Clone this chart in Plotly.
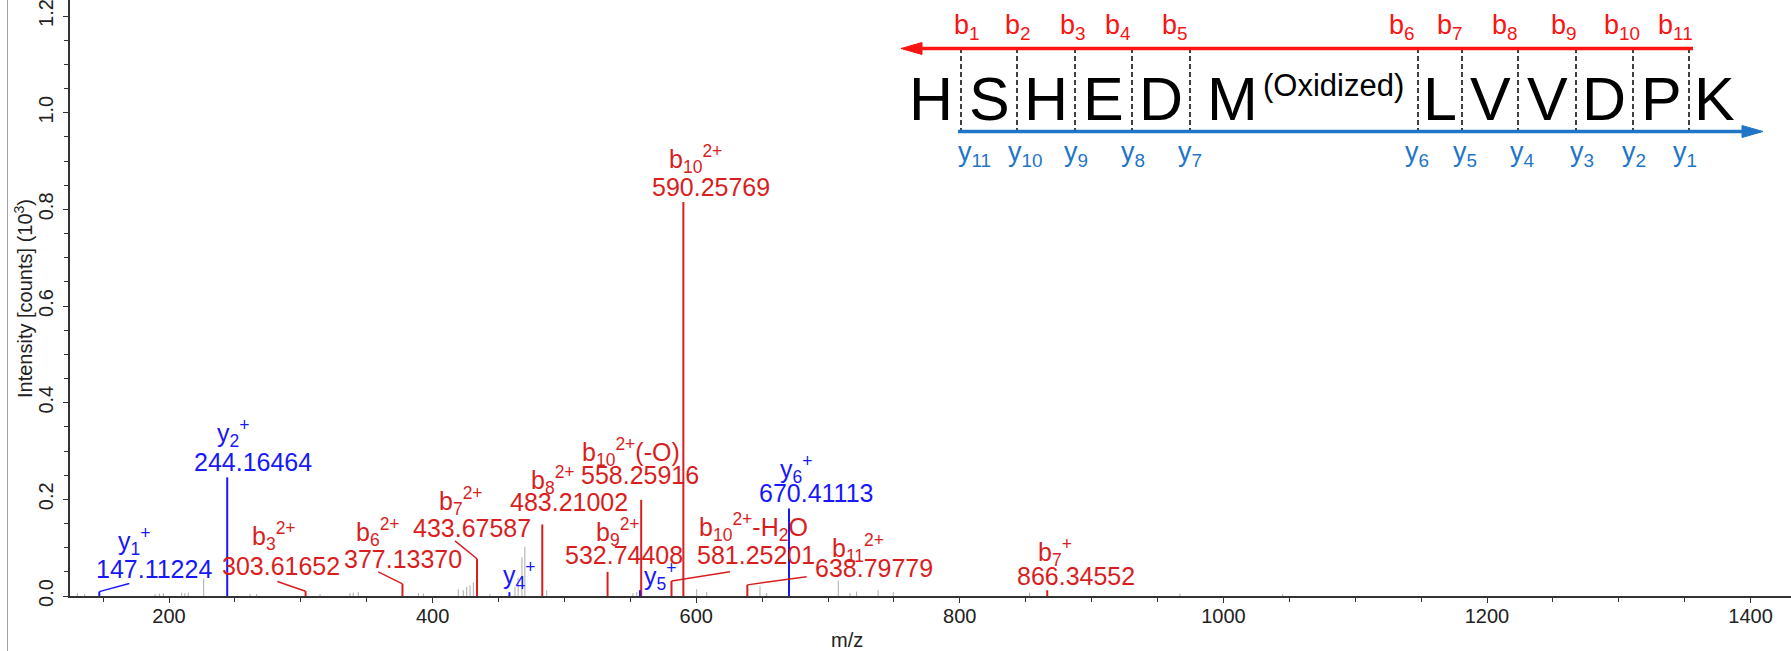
import plotly.graph_objects as go

FONT = "Liberation Sans, Arial, sans-serif"
RED = "#d81e1e"
BLUE = "#1818f8"
GRAY = "#ababab"
SEQ_RED = "#fa1414"
SEQ_BLUE = "#1f75c6"
AXIS = "#333333"

# ---------------- data: annotated fragment ions ----------------
ion_series = ["y", "y", "b", "b", "b", "y", "b", "b", "y", "b", "b", "b", "b", "y", "b"]
ion_mz = [147.11224, 244.16464, 303.61652, 377.13370, 433.67587, 458.26, 483.21002,
          532.74408, 557.33, 558.25916, 590.25769, 581.25201, 638.79779, 670.41113, 866.34552]
ion_int = [0.009, 0.2455, 0.010, 0.025, 0.077, 0.008, 0.148,
           0.050, 0.012, 0.199, 0.815, 0.031, 0.023, 0.181, 0.012]
ion_name = ["y<sub>1</sub><sup>+</sup>", "y<sub>2</sub><sup>+</sup>", "b<sub>3</sub><sup>2+</sup>",
            "b<sub>6</sub><sup>2+</sup>", "b<sub>7</sub><sup>2+</sup>", "y<sub>4</sub><sup>+</sup>",
            "b<sub>8</sub><sup>2+</sup>", "b<sub>9</sub><sup>2+</sup>", "y<sub>5</sub><sup>+</sup>",
            "b<sub>10</sub><sup>2+</sup>(-O)", "b<sub>10</sub><sup>2+</sup>",
            "b<sub>10</sub><sup>2+</sup>-H<sub>2</sub>O", "b<sub>11</sub><sup>2+</sup>",
            "y<sub>6</sub><sup>+</sup>", "b<sub>7</sub><sup>+</sup>"]
ion_value = ["147.11224", "244.16464", "303.61652", "377.13370", "433.67587", None, "483.21002",
             "532.74408", None, "558.25916", "590.25769", "581.25201", "638.79779", "670.41113", "866.34552"]

# unannotated (noise) peaks
noise_mz = [130.4, 136.0, 189.4, 192.7, 195.7, 209.6, 212.1, 214.6, 226.3, 261.5, 266.5, 314.6,
            337.3, 339.8, 343.6, 389.2, 393.0, 419.5, 423.3, 425.9, 428.4, 430.9, 443.5, 462.5,
            464.9, 467.8, 470.0, 486.6, 552.0, 554.9, 600.4, 608.0, 648.4, 653.5, 707.8, 716.7,
            721.7, 738.0, 749.5, 853.0, 967.0, 1045.0]
noise_int = [0.006, 0.004, 0.004, 0.005, 0.006, 0.007, 0.006, 0.007, 0.036, 0.004, 0.004, 0.004,
             0.006, 0.007, 0.008, 0.006, 0.005, 0.014, 0.012, 0.019, 0.022, 0.028, 0.004, 0.019,
             0.037, 0.080, 0.102, 0.012, 0.006, 0.008, 0.014, 0.008, 0.020, 0.006, 0.032, 0.006,
             0.009, 0.012, 0.008, 0.007, 0.005, 0.004]

# peptide sequence and fragment labels
residues = ["H", "S", "H", "E", "D", "M", "L", "V", "V", "D", "P", "K"]
modification = "(Oxidized)"
b_labels = ["b<sub>%d</sub>" % i for i in range(1, 12)]
y_labels = ["y<sub>%d</sub>" % i for i in range(11, 0, -1)]

# ---------------- layout positions (axis units) ----------------
name_pos = [(173.4, 0.114), (248.6, 0.337), (279.4, 0.124), (358.8, 0.133), (421.5, 0.197),
            (465.6, 0.044), (491.0, 0.240), (540.3, 0.133), (572.5, 0.042), (550.8, 0.297),
            (599.8, 0.904), (643.3, 0.142), (722.8, 0.099), (675.7, 0.263), (872.2, 0.091)]
value_pos = [(188.8, 0.056), (264.0, 0.277), (285.2, 0.062), (377.2, 0.077), (429.9, 0.141),
             None, (503.5, 0.1935), (545.1, 0.084), None, (557.0, 0.2505),
             (611.5, 0.8455), (645.6, 0.084), (734.9, 0.058), (690.7, 0.2125), (887.8, 0.0415)]
# leader lines: index of ion -> end point
leader_end = {0: (169.9, 0.026), 2: (282.2, 0.030), 3: (358.8, 0.050), 4: (417.0, 0.114),
              11: (625.6, 0.050), 12: (683.8, 0.040)}

# sequence diagram positions in pixels (page), converted to paper fractions
PL, PW, PH = 70, 1721, 596
def px(x):
    return (x - PL) / PW
def py(y):
    return (PH - y) / PH

cleave_px = [961, 1017, 1075, 1132, 1190, 1418, 1462, 1518, 1576, 1633, 1689]
residue_px = [931, 989, 1046, 1103, 1161, 1232, 1440, 1490, 1547, 1604, 1661, 1714]
b_label_px = [967, 1018, 1073, 1118, 1175, 1402, 1450, 1505, 1564, 1622, 1675]
y_label_px = [974, 1025, 1076, 1133, 1190, 1417, 1465, 1522, 1582, 1634, 1685]

fig = go.Figure()

# noise peaks
nx, ny = [], []
for m, v in zip(noise_mz, noise_int):
    nx += [m, m, None]
    ny += [0, v, None]
fig.add_trace(go.Scatter(x=nx, y=ny, mode="lines", line=dict(color=GRAY, width=1),
                         hoverinfo="skip", showlegend=False))

# annotated peaks
for ser, col in (("b", RED), ("y", BLUE)):
    xs, ys = [], []
    for s, m, v in zip(ion_series, ion_mz, ion_int):
        if s == ser:
            xs += [m, m, None]
            ys += [0, v, None]
    fig.add_trace(go.Scatter(x=xs, y=ys, mode="lines", line=dict(color=col, width=2),
                             hoverinfo="skip", showlegend=False))

# leader lines
for i, (ex, ey) in leader_end.items():
    col = RED if ion_series[i] == "b" else BLUE
    fig.add_trace(go.Scatter(x=[ion_mz[i], ex], y=[ion_int[i], ey], mode="lines",
                             line=dict(color=col, width=1.5), hoverinfo="skip", showlegend=False))

annotations = []
for i in range(len(ion_mz)):
    col = RED if ion_series[i] == "b" else BLUE
    nxp, nyp = name_pos[i]
    annotations.append(dict(x=nxp, y=nyp, xref="x", yref="y", text=ion_name[i], showarrow=False,
                            font=dict(family=FONT, size=25, color=col), xanchor="center", yanchor="middle"))
    if ion_value[i] is not None:
        vx, vy = value_pos[i]
        annotations.append(dict(x=vx, y=vy, xref="x", yref="y", text=ion_value[i], showarrow=False,
                                font=dict(family=FONT, size=25, color=col), xanchor="center", yanchor="middle"))

# sequence residues
for r, xp in zip(residues, residue_px):
    annotations.append(dict(x=px(xp), y=py(99), xref="paper", yref="paper", text=r, showarrow=False,
                            font=dict(family=FONT, size=61, color="black"), xanchor="center", yanchor="middle"))
annotations.append(dict(x=px(1333), y=py(86), xref="paper", yref="paper", text=modification, showarrow=False,
                        font=dict(family=FONT, size=31, color="black"), xanchor="center", yanchor="middle"))
for t, xp in zip(b_labels, b_label_px):
    annotations.append(dict(x=px(xp), y=py(27), xref="paper", yref="paper", text=t, showarrow=False,
                            font=dict(family=FONT, size=27, color=SEQ_RED), xanchor="center", yanchor="middle"))
for t, xp in zip(y_labels, y_label_px):
    annotations.append(dict(x=px(xp), y=py(154), xref="paper", yref="paper", text=t, showarrow=False,
                            font=dict(family=FONT, size=27, color=SEQ_BLUE), xanchor="center", yanchor="middle"))

# axis titles
annotations.append(dict(x=px(23), y=py(299), xref="paper", yref="paper",
                        text="Intensity [counts] (10<sup>3</sup>)", textangle=-90, showarrow=False,
                        font=dict(family=FONT, size=20, color="#222222"), xanchor="center", yanchor="middle"))
annotations.append(dict(x=px(847), y=py(640), xref="paper", yref="paper", text="m/z", showarrow=False,
                        font=dict(family=FONT, size=20, color="#222222"), xanchor="center", yanchor="middle"))

shapes = []
# left frame line
shapes.append(dict(type="line", xref="paper", yref="paper", x0=px(7.5), x1=px(7.5), y0=py(651), y1=py(0),
                   line=dict(color="#a0a0a0", width=1)))
# dashed cleavage lines
for xp in cleave_px:
    shapes.append(dict(type="line", xref="paper", yref="paper", x0=px(xp), x1=px(xp), y0=py(48), y1=py(132),
                       line=dict(color="black", width=1.5, dash="5px,3px")))
# red arrow (pointing left)
shapes.append(dict(type="line", xref="paper", yref="paper", x0=px(918), x1=px(1693), y0=py(48.5), y1=py(48.5),
                   line=dict(color=SEQ_RED, width=3.5)))
shapes.append(dict(type="path", xref="paper", yref="paper",
                   path="M %f,%f L %f,%f L %f,%f Z" % (px(901), py(48.5), px(922), py(42.5), px(922), py(54.5)),
                   fillcolor=SEQ_RED, line=dict(color=SEQ_RED, width=1)))
# blue arrow (pointing right)
shapes.append(dict(type="line", xref="paper", yref="paper", x0=px(958), x1=px(1745), y0=py(131.5), y1=py(131.5),
                   line=dict(color=SEQ_BLUE, width=3.5)))
shapes.append(dict(type="path", xref="paper", yref="paper",
                   path="M %f,%f L %f,%f L %f,%f Z" % (px(1763), py(131.5), px(1742), py(125.5), px(1742), py(137.5)),
                   fillcolor=SEQ_BLUE, line=dict(color=SEQ_BLUE, width=1)))

x_left = 200 - (169 - PL) / 1.318
x_right = 200 + (1791 - 169) / 1.318
y_top = PH / 483.3

fig.update_layout(
    width=1791, height=651,
    margin=dict(l=PL, r=0, t=0, b=651 - PH, pad=0),
    paper_bgcolor="white", plot_bgcolor="white",
    showlegend=False,
    annotations=annotations, shapes=shapes,
    xaxis=dict(range=[x_left, x_right], dtick=200, tick0=0, showgrid=False, zeroline=False,
               showline=True, linecolor=AXIS, linewidth=1.5, ticks="outside", ticklen=5,
               tickcolor=AXIS, tickwidth=1.2,
               minor=dict(dtick=50, ticks="outside", ticklen=4, tickcolor=AXIS, tickwidth=1),
               tickfont=dict(family=FONT, size=20, color="#222222"), ticklabelstandoff=-4,
               ticklabeloverflow="allow"),
    yaxis=dict(range=[0, y_top], dtick=0.2, tick0=0, tickformat=".1f", showgrid=False, zeroline=False,
               showline=True, linecolor=AXIS, linewidth=1.5, ticks="outside", ticklen=5,
               tickcolor=AXIS, tickwidth=1.2, tickangle=-90,
               minor=dict(dtick=0.05, ticks="outside", ticklen=4, tickcolor=AXIS, tickwidth=1),
               tickfont=dict(family=FONT, size=20, color="#222222"), ticklabelstandoff=2,
               ticklabeloverflow="allow"),
)

fig.write_html("out.html")
